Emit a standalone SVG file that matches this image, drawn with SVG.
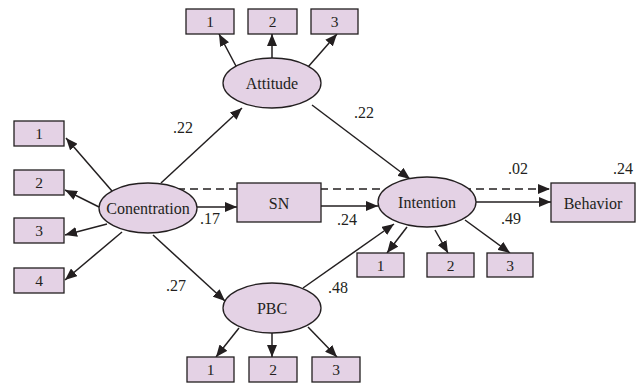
<svg xmlns="http://www.w3.org/2000/svg" width="637" height="385" viewBox="0 0 637 385">
<style>
.box{fill:#e4d2e5;stroke:#231f20;stroke-width:1.3}
.ell{fill:#e4d2e5;stroke:#231f20;stroke-width:1.3}
text{font-family:'Liberation Serif','Times New Roman','DejaVu Serif',serif;fill:#231f20}
.t{font-size:16px;text-anchor:middle}
.n{font-size:15.5px;text-anchor:middle}
.lb{font-size:16px}
.c{stroke:#231f20;stroke-width:1.5;fill:none;marker-end:url(#ah)}
.d{stroke-dasharray:8 5}
</style>
<defs>
<marker id="ah" viewBox="0 0 12 10" refX="12" refY="5" markerWidth="12" markerHeight="10" orient="auto" markerUnits="userSpaceOnUse">
<path d="M0,0 L12,5 L0,10 z" fill="#231f20"/>
</marker>
</defs>
<rect width="637" height="385" fill="#ffffff"/>
<g id="connectors">
<line class="c" x1="237" y1="68" x2="219" y2="34"/>
<line class="c" x1="272" y1="58" x2="272" y2="34"/>
<line class="c" x1="308" y1="67" x2="337" y2="34"/>
<line class="c" x1="161" y1="183" x2="242" y2="108"/>
<line class="c" x1="312" y1="105" x2="410" y2="179"/>
<line class="c" x1="112" y1="191" x2="66" y2="138"/>
<line class="c" x1="99" y1="207" x2="65" y2="190"/>
<line class="c" x1="107" y1="224" x2="65" y2="235"/>
<line class="c" x1="122" y1="232" x2="65" y2="280"/>
<line class="c" x1="197" y1="207" x2="237" y2="207"/>
<line class="c d" x1="177" y1="189" x2="550" y2="189"/>
<line class="c" x1="321" y1="206" x2="378" y2="206"/>
<line class="c" x1="476" y1="202" x2="551" y2="202"/>
<line class="c" x1="407" y1="227" x2="387" y2="253"/>
<line class="c" x1="435" y1="230" x2="448" y2="253"/>
<line class="c" x1="465" y1="220" x2="510" y2="253"/>
<line class="c" x1="153" y1="235" x2="225" y2="301"/>
<line class="c" x1="303" y1="288" x2="394" y2="224"/>
<line class="c" x1="239" y1="328" x2="216" y2="357"/>
<line class="c" x1="272" y1="333" x2="272" y2="357"/>
<line class="c" x1="308" y1="327" x2="337" y2="357"/>
</g>
<g id="labels">
<text class="lb" x="173" y="133">.22</text>
<text class="lb" x="354" y="118">.22</text>
<text class="lb" x="200" y="224">.17</text>
<text class="lb" x="166" y="291">.27</text>
<text class="lb" x="328" y="293">.48</text>
<text class="lb" x="337" y="225">.24</text>
<text class="lb" x="501" y="224">.49</text>
<text class="lb" x="508" y="174">.02</text>
<text class="lb" x="613" y="174">.24</text>
</g>
<g id="attitude"><ellipse class="ell" cx="272" cy="83" rx="49" ry="25"/><text class="t" x="272" y="88.5">Attitude</text></g>
<g id="a1"><rect class="box" x="186" y="9" width="48" height="25"/><text class="n" x="210" y="27">1</text></g>
<g id="a2"><rect class="box" x="248" y="9" width="49" height="25"/><text class="n" x="272.5" y="27">2</text></g>
<g id="a3"><rect class="box" x="311" y="9" width="47" height="25"/><text class="n" x="334.5" y="27">3</text></g>
<g id="conentration"><ellipse class="ell" cx="148" cy="208" rx="49" ry="25"/><text class="t" x="148" y="213.5">Conentration</text></g>
<g id="c1"><rect class="box" x="14" y="121" width="50" height="25"/><text class="n" x="39" y="139">1</text></g>
<g id="c2"><rect class="box" x="14" y="170" width="50" height="25"/><text class="n" x="39" y="188">2</text></g>
<g id="c3"><rect class="box" x="14" y="218" width="50" height="25"/><text class="n" x="39" y="236">3</text></g>
<g id="c4"><rect class="box" x="14" y="268" width="50" height="25"/><text class="n" x="39" y="286">4</text></g>
<g id="sn"><rect class="box" x="237" y="183" width="84" height="39"/><text class="t" x="279" y="208.5">SN</text></g>
<g id="intention"><ellipse class="ell" cx="427" cy="202" rx="49" ry="25"/><text class="t" x="427" y="207.5">Intention</text></g>
<g id="i1"><rect class="box" x="357" y="253" width="47" height="24"/><text class="n" x="380.5" y="270.5">1</text></g>
<g id="i2"><rect class="box" x="427" y="253" width="47" height="24"/><text class="n" x="450.5" y="270.5">2</text></g>
<g id="i3"><rect class="box" x="487" y="253" width="46" height="24"/><text class="n" x="510" y="270.5">3</text></g>
<g id="behavior"><rect class="box" x="551" y="183" width="84" height="39"/><text class="t" x="593" y="208.5">Behavior</text></g>
<g id="pbc"><ellipse class="ell" cx="272" cy="308" rx="49" ry="25"/><text class="t" x="272" y="313.5">PBC</text></g>
<g id="p1"><rect class="box" x="187" y="357" width="47" height="25"/><text class="n" x="210.5" y="375">1</text></g>
<g id="p2"><rect class="box" x="249" y="357" width="48" height="25"/><text class="n" x="273" y="375">2</text></g>
<g id="p3"><rect class="box" x="312" y="357" width="48" height="25"/><text class="n" x="336" y="375">3</text></g>
</svg>
